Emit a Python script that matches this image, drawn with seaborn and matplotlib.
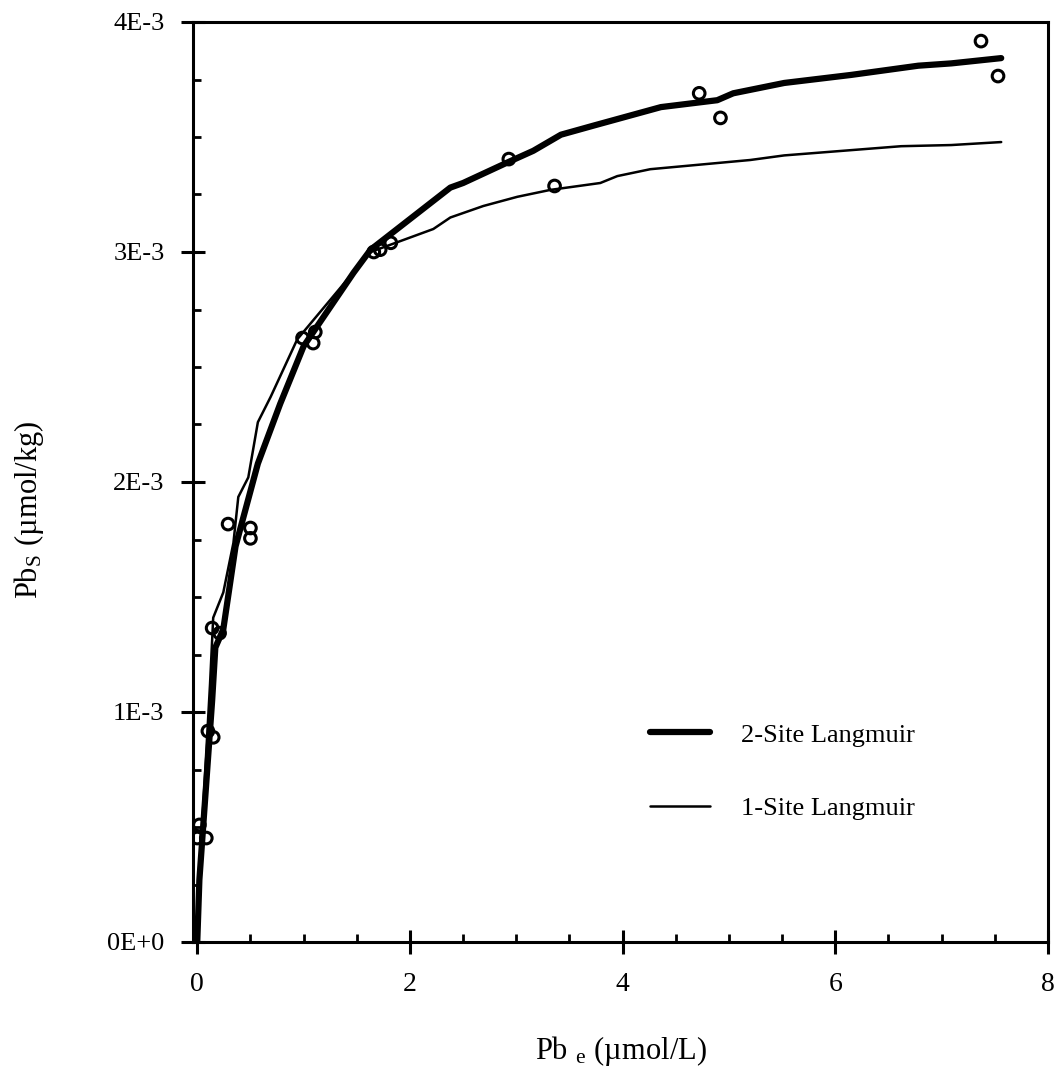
import matplotlib
matplotlib.use('Agg')
import numpy as np
import pandas as pd
import matplotlib.pyplot as plt
import seaborn as sns
from matplotlib.ticker import MultipleLocator

# measured points (Pb_e in umol/L, Pb_s in 1e-3 umol/kg)
obs_x = [0.00, 0.085, 0.02, 0.10, 0.15, 0.29, 0.50, 0.50, 0.14, 0.21,
         0.99, 1.11, 1.09, 1.66, 1.72, 1.82, 2.93, 3.36, 4.72, 4.92,
         7.37, 7.53]
obs_y = [0.452, 0.452, 0.509, 0.917, 0.890, 1.817, 1.800, 1.755, 1.365, 1.343,
         2.626, 2.652, 2.604, 3.000, 3.010, 3.040, 3.404, 3.287, 3.690, 3.583,
         3.917, 3.765]

# 2-site Langmuir fit, as traced
two_x = [0.00, 0.02, 0.14, 0.17, 0.245, 0.36, 0.57, 0.78, 1.00, 1.47, 1.63,
         1.88, 2.38, 2.50, 2.92, 3.16, 3.42, 3.73, 4.36, 4.89, 5.04, 5.52,
         6.15, 6.78, 7.09, 7.56]
two_y = [0.00, 0.27, 1.05, 1.28, 1.36, 1.72, 2.08, 2.34, 2.59, 2.91, 3.01,
         3.10, 3.28, 3.30, 3.39, 3.44, 3.51, 3.55, 3.63, 3.66, 3.69, 3.735,
         3.77, 3.81, 3.82, 3.843]

# 1-site Langmuir fit, as traced
one_x = [0.00, 0.02, 0.06, 0.12, 0.15, 0.245, 0.34, 0.386, 0.48, 0.57, 0.69,
         0.94, 1.51, 1.63, 2.22, 2.38, 2.69, 3.01, 3.32, 3.79, 3.95, 4.26,
         5.20, 5.52, 6.62, 7.09, 7.56]
one_y = [0.00, 0.30, 0.62, 1.12, 1.41, 1.52, 1.735, 1.935, 2.02, 2.26, 2.37,
         2.62, 2.935, 3.00, 3.10, 3.15, 3.20, 3.24, 3.27, 3.30, 3.33, 3.36,
         3.40, 3.42, 3.46, 3.465, 3.478]

x_ticks = [0, 2, 4, 6, 8]
y_ticks = [0, 1e-3, 2e-3, 3e-3, 4e-3]
y_tick_labels = ['0E+0', '1E-3', '2E-3', '3E-3', '4E-3']

obs = pd.DataFrame({'x': obs_x, 'y': np.array(obs_y) * 1e-3})
two = pd.DataFrame({'x': two_x, 'y': np.array(two_y) * 1e-3})
one = pd.DataFrame({'x': one_x, 'y': np.array(one_y) * 1e-3})

sns.set_style('ticks')
plt.rcParams['font.family'] = ['Liberation Serif', 'DejaVu Serif']
plt.rcParams['mathtext.fontset'] = 'stix'
for key in ['text.color', 'axes.edgecolor', 'axes.labelcolor',
            'xtick.color', 'ytick.color']:
    plt.rcParams[key] = 'black'

fig = plt.figure(figsize=(10.61, 10.78), dpi=100)
ax = fig.add_axes([193 / 1061, 1 - 942 / 1078, (1048 - 193) / 1061, (942 - 22) / 1078])

sns.lineplot(data=two, x='x', y='y', ax=ax, color='black', linewidth=4.5,
             sort=False, label='2-Site Langmuir')
sns.lineplot(data=one, x='x', y='y', ax=ax, color='black', linewidth=1.8,
             sort=False, label='1-Site Langmuir')
sns.scatterplot(data=obs, x='x', y='y', ax=ax, marker='o', s=70,
                facecolor='none', edgecolor='black', linewidth=2.2, zorder=5)

ax.set_xlim(-0.04, 8)
ax.set_ylim(0, 4e-3)
ax.set_xticks(x_ticks)
ax.set_xticklabels([str(v) for v in x_ticks])
ax.set_yticks(y_ticks)
ax.set_yticklabels(y_tick_labels)
ax.xaxis.set_minor_locator(MultipleLocator(0.5))
ax.yaxis.set_minor_locator(MultipleLocator(0.25e-3))
ax.tick_params(which='major', direction='inout', length=17, width=2.2,
               labelsize=19, pad=12)
ax.tick_params(axis='x', which='major', pad=13, labelsize=20)
ax.tick_params(which='minor', direction='in', length=6, width=2)
for sp in ax.spines.values():
    sp.set_linewidth(2.2)

ax.set_xlabel('Pb $_{\\mathregular{e}}$ (µmol/L)', fontsize=22)
ax.set_ylabel('Pb$_{\\mathregular{S}}$ (µmol/kg)', fontsize=22)
ax.xaxis.set_label_coords(0.5, -0.1)
ax.yaxis.set_label_coords(-0.172, 0.47)

ax.legend(loc='upper left', bbox_to_anchor=(0.534, 0.238), frameon=False,
          fontsize=19, handlelength=2.3, handletextpad=1.15, labelspacing=1.9,
          borderpad=0, borderaxespad=0)

fig.savefig('out.png', dpi=100)
